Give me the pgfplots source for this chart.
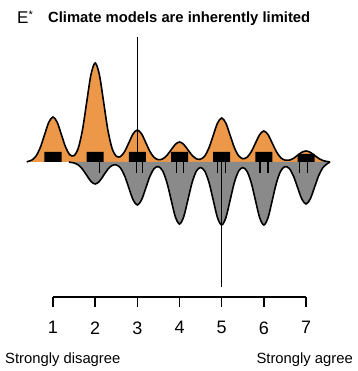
\documentclass[border=0pt]{standalone}
\usepackage{pgfplots}
\usepackage{pgfplotstable}
\pgfplotsset{compat=1.18}
\usepackage{fontspec}
\setmainfont{Liberation Sans}
\definecolor{beanorange}{RGB}{236,152,72}
\definecolor{beangray}{RGB}{138,138,138}

\pgfplotstableread{
x y
0.38 0
0.4 0.5
0.5 2.0
0.6 6.1
0.7 14.6
0.8 27.3
0.9 39.7
1.0 45
1.1 39.7
1.2 27.3
1.3 14.8
1.4 7.2
1.5 6.4
1.6 13.9
1.7 32.3
1.8 60.1
1.9 87.3
2.0 99
2.1 87.3
2.2 60.1
2.3 32.2
2.4 13.7
2.5 5.8
2.6 5.4
2.7 10.6
2.8 19.4
2.9 28.2
3.0 32
3.1 28.2
3.2 19.4
3.3 10.4
3.4 4.5
3.5 2.3
3.6 3.05
3.7 6.6
3.8 12.1
3.9 17.6
4.0 20
4.1 17.6
4.2 12.1
4.3 6.6
4.4 3.2
4.5 2.8
4.6 6.1
4.7 14.3
4.8 26.7
4.9 38.8
5.0 44
5.1 38.8
5.2 26.7
5.3 14.4
5.4 6.3
5.5 3.3
5.6 4.7
5.7 10.2
5.8 18.8
5.9 27.3
6.0 31
6.1 27.3
6.2 18.8
6.3 10.1
6.4 4.3
6.5 1.9
6.6 1.8
6.7 3.6
6.8 6.7
6.9 9.7
7.0 11
7.1 9.7
7.2 6.7
7.3 3.6
7.4 1.5
7.5 0.5
7.57 0
}\orangetable

\pgfplotstableread{
x y
1.38 0
1.4 -0.24
1.5 -1.0
1.6 -3.0
1.7 -7.2
1.8 -13.4
1.9 -19.4
2.0 -22
2.1 -19.4
2.2 -13.4
2.3 -7.3
2.4 -3.5
2.5 -2.9
2.6 -6.0
2.7 -14.0
2.8 -26.1
2.9 -37.9
3.0 -43
3.1 -37.9
3.2 -26.1
3.3 -14.1
3.4 -6.5
3.5 -4.6
3.6 -8.9
3.7 -20.3
3.8 -37.6
3.9 -54.7
4.0 -62
4.1 -54.7
4.2 -37.6
4.3 -20.3
4.4 -9.1
4.5 -5.5
4.6 -9.2
4.7 -20.6
4.8 -38.2
4.9 -55.6
5.0 -63
5.1 -55.6
5.2 -38.2
5.3 -20.6
5.4 -9.2
5.5 -5.6
5.6 -9.2
5.7 -20.6
5.8 -38.2
5.9 -55.6
6.0 -63
6.1 -55.6
6.2 -38.2
6.3 -20.6
6.4 -9.0
6.5 -4.6
6.6 -6.4
6.7 -13.8
6.8 -25.5
6.9 -37.0
7.0 -42
7.1 -37.0
7.2 -25.5
7.3 -13.7
7.4 -5.7
7.5 -1.8
7.57 0
}\graytable

\begin{document}
\begin{tikzpicture}
\begin{axis}[
  x=42.17pt, y=1pt,
  xmin=1, xmax=7, ymin=-135, ymax=125,
  clip=false,
  axis x line*=bottom,
  axis y line=none,
  x axis line style={-, line width=1.4pt},
  xtick={1,2,3,4,5,6,7},
  tick align=outside,
  major tick length=10pt,
  every tick/.style={black, line width=1.4pt},
  xticklabel style={font=\fontsize{18}{18}\selectfont, yshift=-11pt},
  /pgf/number format/assume math mode=true,
]
% invisible frame for picture size
\path (axis cs:-0.2568,-209) rectangle (axis cs:8.209,162);

\addplot[fill=beanorange, draw=none] table {\orangetable} \closedcycle;
\addplot[fill=beangray, draw=none] table {\graytable} \closedcycle;
\addplot[black, line width=1.6pt, smooth] table {\orangetable};
\addplot[black, line width=1.6pt, smooth] table {\graytable};

% observation bars (orange group)
\addplot[ybar, bar width=17pt, fill=black, draw=none] coordinates {
(1,10) (2,10) (3,10) (4,10) (5,10) (6,10) (7,8)};

% observation ticks (gray group)
\addplot[ycomb, black, line width=1.3pt, mark=none] coordinates {
(2.1,-11) (2.98,-11) (3.12,-11) (3.93,-11) (4.09,-11)
(4.9,-11) (5.09,-11) (5.91,-11) (6.1,-11) (6.84,-11) (7.03,-11)};

% medians
\addplot[black, line width=1.4pt] coordinates {(3,0) (3,125)};
\addplot[black, line width=1.4pt] coordinates {(5,0) (5,-125)};

% texts
\node[anchor=base west, inner sep=0pt] at (axis cs:0.146,138.8)
  {\fontsize{17}{17}\selectfont E\raisebox{5pt}{\fontsize{11}{11}\selectfont *}};
\node[anchor=base west, inner sep=0pt] at (axis cs:0.881,139.3)
  {\resizebox{262pt}{!}{\fontsize{15}{15}\selectfont\bfseries Climate models are inherently limited}};
\node[anchor=base west, inner sep=0pt] at (axis cs:-0.138,-201)
  {\fontsize{14.8}{14.8}\selectfont Strongly disagree};
\node[anchor=base east, inner sep=0pt] at (axis cs:8.114,-201)
  {\fontsize{14.8}{14.8}\selectfont Strongly agree};
\end{axis}
\end{tikzpicture}
\end{document}
